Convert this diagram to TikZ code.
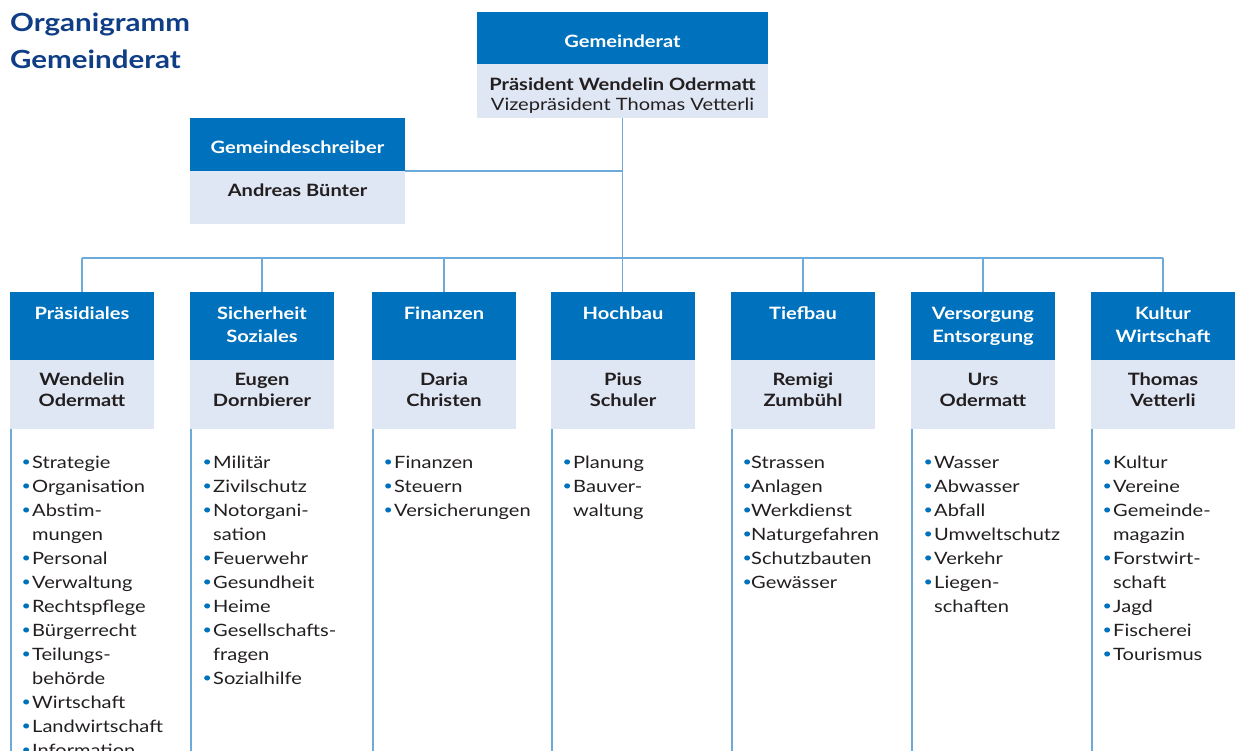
\documentclass[tikz,border=0pt]{standalone}
\usepackage{fontspec}
\setmainfont{Lato}[FakeStretch=1.18]
\definecolor{orgblue}{RGB}{0,113,188}
\definecolor{orglight}{RGB}{224,231,244}
\definecolor{orgline}{RGB}{108,170,218}
\definecolor{orgtitle}{RGB}{16,62,134}
\definecolor{orgtext}{RGB}{35,31,32}
% list helpers: bullet item, continuation line, tight bullet item
\newcommand\orgbul[1]{\makebox[#1][l]{\hspace*{0.5pt}\textcolor{orgblue}{\raisebox{1.5pt}{\scalebox{0.8}{•}}}}}
\newcommand\itm[1]{\orgbul{11pt}#1}
\newcommand\itt[1]{\orgbul{9pt}#1}
\newcommand\cnt[1]{\hspace*{11pt}#1}
\newcommand\tstrut{\rule{0pt}{16pt}}
\begin{document}
\begin{tikzpicture}[x=1pt,y=-1pt,
  hbox/.style={fill=orgblue, minimum width=144pt, minimum height=68pt, inner sep=0pt},
  nbox/.style={fill=orglight, minimum width=144pt, minimum height=69pt, inner sep=0pt},
  htxt/.style={text=white, font=\bfseries\fontsize{17}{23}\selectfont, align=center, anchor=north, inner sep=0pt},
  ntxt/.style={text=orgtext, font=\bfseries\fontsize{17}{21.5}\selectfont, align=center, anchor=north, inner sep=0pt},
  ltxt/.style={text=orgtext, font=\fontsize{17}{24}\selectfont, align=left, anchor=north west, inner sep=0pt},
  conn/.style={draw=orgline, line width=1.5pt}]
\useasboundingbox (0,0) rectangle (1242,751);
\clip (0,0) rectangle (1242,751);
\fill[white] (0,0) rectangle (1242,751);

% title
\node[anchor=north west, inner sep=0pt, align=left, text=orgtitle,
  font=\bfseries\fontsize{25}{37}\selectfont] (title) at (10,6)
  {\rule{0pt}{25pt}Organigramm\\Gemeinderat};

% Gemeinderat
\node[fill=orgblue, minimum width=291pt, minimum height=52.5pt, inner sep=0pt] (grh) at (622.5,38.25) {};
\node[fill=orglight, minimum width=291pt, minimum height=53.5pt, inner sep=0pt] (grn) at (622.5,91.25) {};
\node[htxt] (grht) at (622.5,31) {\tstrut Gemeinderat};
\node[ntxt, font=\fontsize{17}{20}\selectfont] (grnt) at (622.5,74)
  {\tstrut\textbf{Präsident Wendelin Odermatt}\\Vizepräsident Thomas Vetterli};

% Gemeindeschreiber
\node[fill=orgblue, minimum width=215pt, minimum height=53pt, inner sep=0pt] (gsh) at (297.5,144.5) {};
\node[fill=orglight, minimum width=215pt, minimum height=53pt, inner sep=0pt] (gsn) at (297.5,197.5) {};
\node[htxt] (gsht) at (297.5,137) {\tstrut Gemeindeschreiber};
\node[ntxt] (gsnt) at (297.5,180) {\tstrut Andreas Bünter};

% departments: header boxes and name boxes
\foreach \i/\cx in {1/82,2/262,3/444,4/623,5/803,6/983,7/1163} {
  \node[hbox] (h\i) at (\cx,326) {};
  \node[nbox] (n\i) at (\cx,394.5) {};
}
\node[htxt] (h1t) at (82,303) {\tstrut Präsidiales};
\node[htxt] (h2t) at (262,303) {\tstrut Sicherheit\\Soziales};
\node[htxt] (h3t) at (444,303) {\tstrut Finanzen};
\node[htxt] (h4t) at (623,303) {\tstrut Hochbau};
\node[htxt] (h5t) at (803,303) {\tstrut Tiefbau};
\node[htxt] (h6t) at (983,303) {\tstrut Versorgung\\Entsorgung};
\node[htxt] (h7t) at (1163,303) {\tstrut Kultur\\Wirtschaft};

\node[ntxt] (n1t) at (82,369) {\tstrut Wendelin\\Odermatt};
\node[ntxt] (n2t) at (262,369) {\tstrut Eugen\\Dornbierer};
\node[ntxt] (n3t) at (444,369) {\tstrut Daria\\Christen};
\node[ntxt] (n4t) at (623,369) {\tstrut Pius\\Schuler};
\node[ntxt] (n5t) at (803,369) {\tstrut Remigi\\Zumbühl};
\node[ntxt] (n6t) at (983,369) {\tstrut Urs\\Odermatt};
\node[ntxt] (n7t) at (1163,369) {\tstrut Thomas\\Vetterli};

% connectors
\coordinate (bus) at (0,258);
\coordinate (bottom) at (0,760);
\draw[conn] (grn.south) -- (grn.south |- h4.north);
\draw[conn] (gsh.south east) -- (gsh.south east -| grn.south);
\draw[conn] (h1.north |- bus) -- (h7.north |- bus);
\foreach \i in {1,2,3,5,6,7} {
  \draw[conn] (h\i.north) -- (h\i.north |- bus);
}
\foreach \i in {1,...,7} {
  \draw[conn] ([xshift=1pt]n\i.south west) -- ([xshift=1pt]n\i.south west |- bottom);
}

% task lists
\node[ltxt] (l1) at (21,452) {\tstrut\itm{Strategie}\\\itm{Organisation}\\\itm{Abstim-}\\\cnt{mungen}\\\itm{Personal}\\\itm{Verwaltung}\\\itm{Rechtspflege}\\\itm{Bürgerrecht}\\\itm{Teilungs-}\\\cnt{behörde}\\\itm{Wirtschaft}\\\itm{Landwirtschaft}\\\itm{Information}};
\node[ltxt] (l2) at (202,452) {\tstrut\itm{Militär}\\\itm{Zivilschutz}\\\itm{Notorgani-}\\\cnt{sation}\\\itm{Feuerwehr}\\\itm{Gesundheit}\\\itm{Heime}\\\itm{Gesellschafts-}\\\cnt{fragen}\\\itm{Sozialhilfe}};
\node[ltxt] (l3) at (383,452) {\tstrut\itm{Finanzen}\\\itm{Steuern}\\\itm{Versicherungen}};
\node[ltxt] (l4) at (562,452) {\tstrut\itm{Planung}\\\itm{Bauver-}\\\cnt{waltung}};
\node[ltxt] (l5) at (742,452) {\tstrut\itt{Strassen}\\\itt{Anlagen}\\\itt{Werkdienst}\\\itt{Naturgefahren}\\\itt{Schutzbauten}\\\itt{Gewässer}};
\node[ltxt] (l6) at (923,452) {\tstrut\itm{Wasser}\\\itm{Abwasser}\\\itm{Abfall}\\\itm{Umweltschutz}\\\itm{Verkehr}\\\itm{Liegen-}\\\cnt{schaften}};
\node[ltxt] (l7) at (1102,452) {\tstrut\itm{Kultur}\\\itm{Vereine}\\\itm{Gemeinde-}\\\cnt{magazin}\\\itm{Forstwirt-}\\\cnt{schaft}\\\itm{Jagd}\\\itm{Fischerei}\\\itm{Tourismus}};
\end{tikzpicture}
\end{document}
